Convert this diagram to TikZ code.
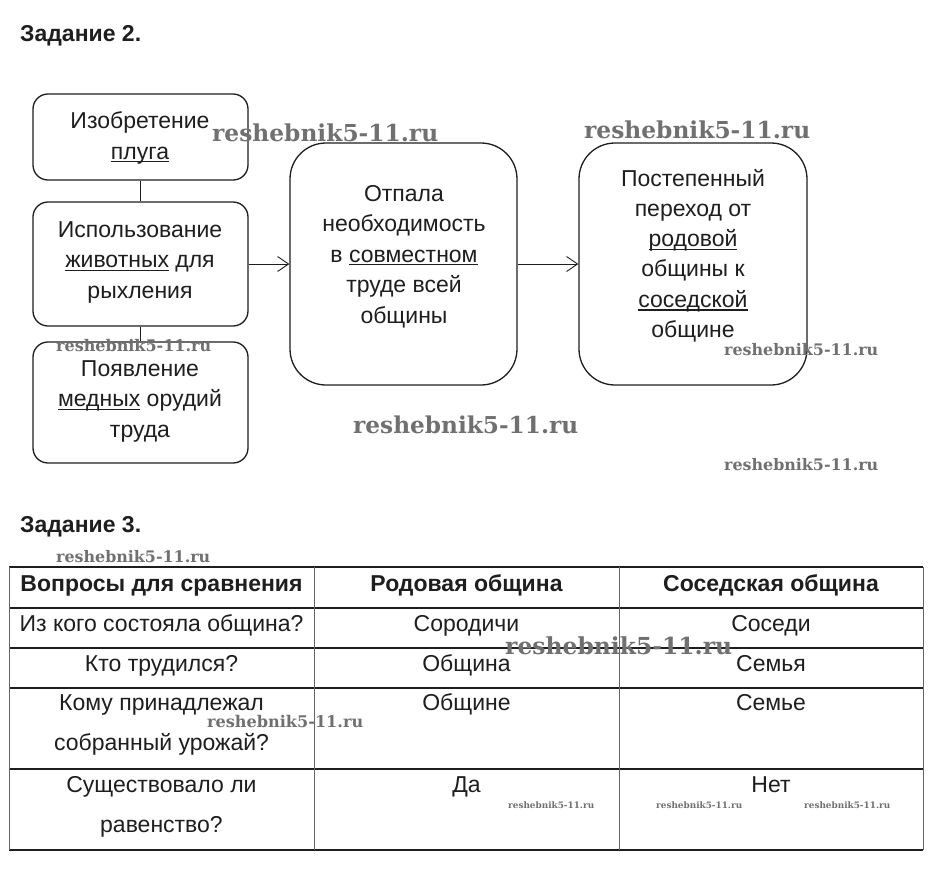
\documentclass[tikz,border=0pt]{standalone}
\usepackage{fontspec}
\setmainfont{Liberation Sans}
\newfontfamily\wmfont{DejaVu Serif}
\usepackage{graphicx}
\usetikzlibrary{arrows.meta}
\newsavebox\ulbox
\newcommand\uln[1]{\sbox\ulbox{#1}\rlap{\rule[-3.4pt]{\wd\ulbox}{1.4pt}}\usebox\ulbox}
\newcommand\wm[2]{\resizebox{#1pt}{!}{\wmfont\bfseries #2}}
\definecolor{ink}{HTML}{1E1E1E}
\definecolor{wmgray}{HTML}{707070}
\begin{document}
\begin{tikzpicture}[x=1pt,y=-1pt,
  box/.style={draw=ink, line width=1.3pt, inner sep=0pt},
  sbox/.style={box, rounded corners=15pt},
  bbox/.style={box, rounded corners=36pt},
  bt/.style={anchor=base, inner sep=0pt, text=ink, font=\fontsize{23}{27}\selectfont},
  tt/.style={anchor=base, inner sep=0pt, text=ink, font=\fontsize{23}{27}\selectfont},
  th/.style={tt, font=\fontsize{23}{27}\selectfont\bfseries},
  title/.style={anchor=base west, inner sep=0pt, text=ink, font=\fontsize{23}{27}\selectfont\bfseries},
  wmk/.style={anchor=base west, inner sep=0pt, text=wmgray},
  conn/.style={draw=ink, line width=0.9pt},
  arr/.style={conn, -{Straight Barb[length=11pt,width=15pt,line width=0.9pt]}},
  hl/.style={draw=ink, line width=1.4pt},
  vl/.style={draw=black!60, line width=0.8pt}
]
\useasboundingbox (0,0) rectangle (937,887);
\fill[white] (0,0) rectangle (937,887);

% ---------- Задание 2 ----------
\node[title] (t2) at (20,41) {Задание 2.};

\node[sbox, minimum width=215pt, minimum height=86pt]  (b1) at (140.5,137) {};
\node[sbox, minimum width=215pt, minimum height=124pt] (b2) at (140.5,264) {};
\node[sbox, minimum width=215pt, minimum height=121pt] (b3) at (140.5,402.5) {};
\node[bbox, minimum width=227pt, minimum height=242pt] (b4) at (403.5,264) {};
\node[bbox, minimum width=228pt, minimum height=242pt] (b5) at (693,264) {};

\draw[conn] (b1.south) -- (b2.north);
\draw[conn] (b2.south) -- (b3.north);
\draw[arr] (b2.east) -- (b4.west);
\draw[arr] (b4.east) -- (b5.west);

\node[bt] (b1l1) at (140,128.5) {Изобретение};
\node[bt] (b1l2) at (140,159) {\uln{плуга}};

\node[bt] (b2l1) at (140,237) {Использование};
\node[bt] (b2l2) at (140,267.5) {\uln{животных} для};
\node[bt] (b2l3) at (140,298) {рыхления};

\node[bt] (b3l1) at (140,376) {Появление};
\node[bt] (b3l2) at (140,406.5) {\uln{медных} орудий};
\node[bt] (b3l3) at (140,437) {труда};

\node[bt] (b4l1) at (404,201) {Отпала};
\node[bt] (b4l2) at (404,231.5) {необходимость};
\node[bt] (b4l3) at (404,262) {в \uln{совместном}};
\node[bt] (b4l4) at (404,292.5) {труде всей};
\node[bt] (b4l5) at (404,323) {общины};

\node[bt] (b5l1) at (693,186) {Постепенный};
\node[bt] (b5l2) at (693,216.3) {переход от};
\node[bt] (b5l3) at (693,246.6) {\uln{родовой}};
\node[bt] (b5l4) at (693,276.9) {общины к};
\node[bt] (b5l5) at (693,307.2) {\uln{соседской}};
\node[bt] (b5l6) at (693,337.5) {общине};

% ---------- Задание 3 ----------
\node[title] (t3) at (20,532) {Задание 3.};

\foreach \y in {567,608,648,688,769,850} \draw[hl] (9,\y) -- (923,\y);
\foreach \x in {9,314,619,923} \draw[vl] (\x,567) -- (\x,850);

\node[th] (h1) at (161.5,591) {Вопросы для сравнения};
\node[th] (h2) at (466.5,591) {Родовая община};
\node[th] (h3) at (771,591) {Соседская община};

\node[tt] (r1a) at (161.5,631) {Из кого состояла община?};
\node[tt] (r1b) at (466.5,631) {Сородичи};
\node[tt] (r1c) at (771,631) {Соседи};

\node[tt] (r2a) at (161.5,671) {Кто трудился?};
\node[tt] (r2b) at (466.5,671) {Община};
\node[tt] (r2c) at (771,671) {Семья};

\node[tt] (r3a) at (161.5,710) {Кому принадлежал};
\node[tt] (r3a2) at (161.5,750) {собранный урожай?};
\node[tt] (r3b) at (466.5,710) {Общине};
\node[tt] (r3c) at (771,710) {Семье};

\node[tt] (r4a) at (161.5,792) {Существовало ли};
\node[tt] (r4a2) at (161.5,832) {равенство?};
\node[tt] (r4b) at (466.5,792) {Да};
\node[tt] (r4c) at (771,792) {Нет};

% ---------- watermarks ----------
\node[wmk] (w1)  at (212,141)   {\wm{226}{reshebnik5-11.ru}};
\node[wmk] (w2)  at (584,138)   {\wm{226}{reshebnik5-11.ru}};
\node[wmk] (w3)  at (56,351)    {\wm{155}{reshebnik5-11.ru}};
\node[wmk] (w4)  at (724,355)   {\wm{154}{reshebnik5-11.ru}};
\node[wmk] (w5)  at (353,433)   {\wm{225}{reshebnik5-11.ru}};
\node[wmk] (w6)  at (724,470)   {\wm{154}{reshebnik5-11.ru}};
\node[wmk] (w7)  at (56,562)    {\wm{154}{reshebnik5-11.ru}};
\node[wmk] (w8)  at (505,654)   {\wm{227}{reshebnik5-11.ru}};
\node[wmk] (w9)  at (207,727)   {\wm{156}{reshebnik5-11.ru}};
\node[wmk] (w10) at (508,808)   {\wm{86}{reshebnik5-11.ru}};
\node[wmk] (w11) at (656,808)   {\wm{86}{reshebnik5-11.ru}};
\node[wmk] (w12) at (804,808)   {\wm{86}{reshebnik5-11.ru}};
\end{tikzpicture}
\end{document}
